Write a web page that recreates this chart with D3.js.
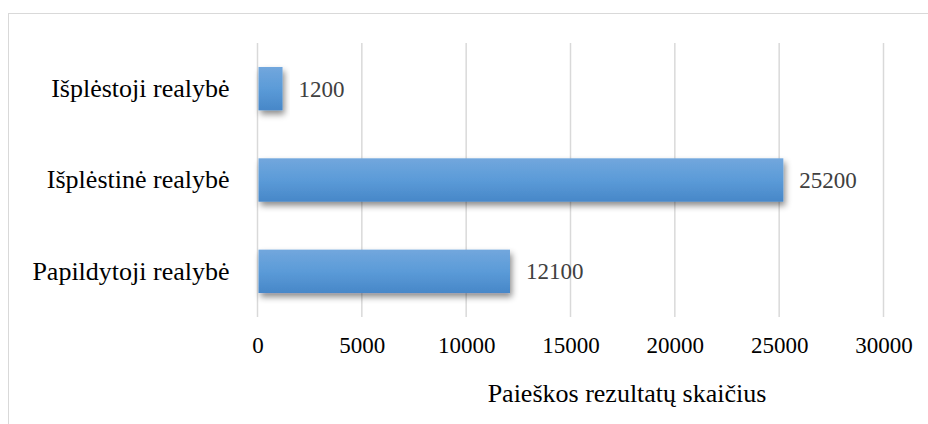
<!DOCTYPE html>
<html><head><meta charset="utf-8">
<script src="https://cdn.jsdelivr.net/npm/d3@7"></script>
<style>body{margin:0;background:#fff}svg{display:block}</style>
</head><body><svg id="c" width="928" height="424" font-family="Liberation Serif" style="font-family:'Liberation Serif'"></svg>
<script>
const categories = ["Išplėstoji realybė", "Išplėstinė realybė", "Papildytoji realybė"];
const values = [1200, 25200, 12100];
const tickValues = [0, 5000, 10000, 15000, 20000, 25000, 30000];
const axisTitle = "Paieškos rezultatų skaičius";

const FONT = '"Liberation Serif"';
function serif(sel, size) {
  sel.attr("font-family", "Liberation Serif").attr("font-size", size)
     .style("font-family", FONT).style("font-size", size + "px");
}
const svg = d3.select("#c");
const defs = svg.append("defs");
const g = defs.append("linearGradient").attr("id","bg").attr("x1",0).attr("y1",0).attr("x2",0).attr("y2",1);
g.append("stop").attr("offset","0%").attr("stop-color","#72a7dd");
g.append("stop").attr("offset","50%").attr("stop-color","#5b9bd8");
g.append("stop").attr("offset","100%").attr("stop-color","#4787c8");
const f = defs.append("filter").attr("id","sh").attr("x","-20%").attr("y","-30%").attr("width","150%").attr("height","190%");
f.append("feDropShadow").attr("dx",2).attr("dy",4).attr("stdDeviation",3).attr("flood-color","#000").attr("flood-opacity",0.45);

svg.append("rect").attr("x",8.5).attr("y",13.5).attr("width",930).attr("height",430)
  .attr("fill","none").attr("stroke","#d9d9d9").attr("stroke-width",1);

const x = d3.scaleLinear().domain([0,30000]).range([257.5,883.5]);
const y = d3.scaleBand().domain(categories).range([43,317]).paddingInner(0.525).paddingOuter(0.2625);

svg.append("g").selectAll("line").data(tickValues).join("line")
  .attr("x1",d=>x(d)).attr("x2",d=>x(d)).attr("y1",43).attr("y2",317)
  .attr("stroke","#d9d9d9").attr("stroke-width",1.5);

svg.append("g").selectAll("rect").data(values).join("rect")
  .attr("x",x(0)+1).attr("y",(d,i)=>y(categories[i]))
  .attr("width",d=>x(d)-x(0)-1).attr("height",y.bandwidth())
  .attr("fill","url(#bg)").attr("filter","url(#sh)");

const vl = svg.append("g").selectAll("text").data(values).join("text")
  .attr("x",d=>x(d)+16).attr("y",(d,i)=>y(categories[i])+y.bandwidth()/2)
  .attr("dy","0.35em").attr("fill","#404040")
  .text(d=>d);
serif(vl, 23);

const ya = svg.append("g").attr("transform",`translate(${x(0)},0)`)
  .call(d3.axisLeft(y).tickSize(0).tickPadding(28));
ya.select(".domain").remove();
serif(ya, 26);
ya.selectAll("text").attr("fill","#000").call(serif, 26);

const xa = svg.append("g").attr("transform","translate(0,337)")
  .call(d3.axisBottom(x).tickValues(tickValues).tickSize(0).tickPadding(0).tickFormat(d3.format("d")));
xa.select(".domain").remove();
serif(xa, 23);
xa.selectAll("text").attr("fill","#000").attr("dy","0.71em").call(serif, 23);

const t = svg.append("text").attr("x",627).attr("y",402).attr("text-anchor","middle")
  .attr("fill","#000").text(axisTitle);
serif(t, 26);
</script></body></html>
